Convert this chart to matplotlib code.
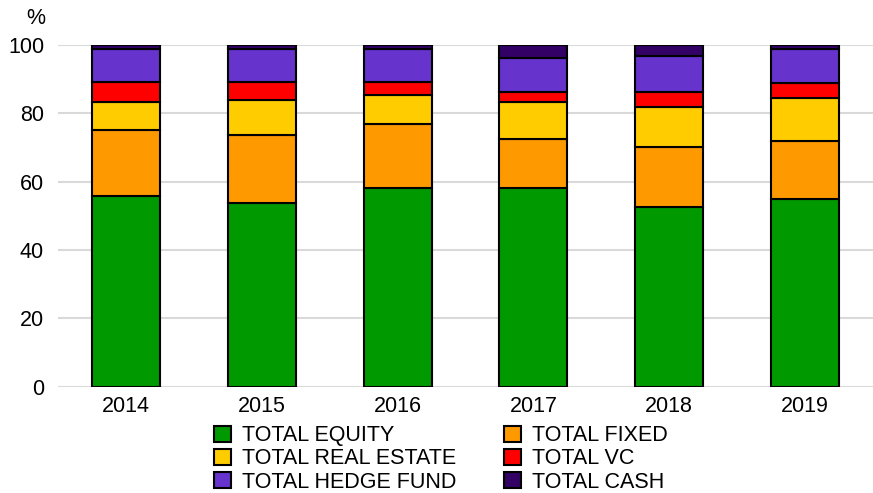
import matplotlib
matplotlib.use("Agg")
import matplotlib.pyplot as plt
import numpy as np
from matplotlib.patches import Patch

plt.rcParams['font.family'] = ['Liberation Sans', 'DejaVu Sans']

years = ["2014", "2015", "2016", "2017", "2018", "2019"]
equity = [55.7, 53.8, 58.2, 58.2, 52.6, 54.9]
fixed = [19.4, 20.0, 18.6, 14.4, 17.5, 16.9]
real_estate = [8.1, 10.0, 8.7, 10.6, 11.8, 12.7]
vc = [6.1, 5.5, 3.8, 3.1, 4.4, 4.3]
hedge_fund = [9.4, 9.4, 9.4, 9.8, 10.5, 9.9]
cash = [1.3, 1.3, 1.3, 3.9, 3.2, 1.3]

series = [
    ("TOTAL EQUITY", equity, "#009900"),
    ("TOTAL FIXED", fixed, "#FF9900"),
    ("TOTAL REAL ESTATE", real_estate, "#FFCC00"),
    ("TOTAL VC", vc, "#FF0000"),
    ("TOTAL HEDGE FUND", hedge_fund, "#6633CC"),
    ("TOTAL CASH", cash, "#330066"),
]

FS = 15.5
fig = plt.figure(figsize=(8.73, 4.93), dpi=100)
ax = fig.add_axes([58/873, 1 - 386.7/493, (873-58)/873, (386.7-45)/493])

x = np.arange(len(years))
bottom = np.zeros(len(years))
for name, vals, col in series:
    ax.bar(x, vals, width=0.5, bottom=bottom, color=col, edgecolor="black",
           linewidth=1.5, zorder=3, label=name)
    bottom += np.array(vals)

ax.set_xlim(-0.5, len(years) - 0.5)
ax.set_ylim(0, 100)
ax.set_yticks([0, 20, 40, 60, 80, 100])
ax.set_xticks(x)
ax.set_xticklabels(years)
ax.yaxis.grid(True, color="#d9d9d9", linewidth=1.5, zorder=0)
ax.set_axisbelow(True)
for s in ax.spines.values():
    s.set_visible(False)
ax.tick_params(axis="both", length=0, labelsize=FS, colors="black")
ax.tick_params(axis="y", pad=10)
ax.tick_params(axis="x", pad=7)

fig.text(36/873, 1 - 18/493, "%", fontsize=FS, ha="center", va="center")

handles = [Patch(facecolor=c, edgecolor="black", linewidth=1.5, label=n) for n, v, c in series]
order = [0, 2, 4, 1, 3, 5]
handles = [handles[i] for i in order]
leg = fig.legend(handles=handles, loc="center", bbox_to_anchor=(441/873, 1 - 459/493),
                 ncol=2, frameon=False, fontsize=FS, handlelength=0.8, handleheight=0.8,
                 handletextpad=0.5, columnspacing=2.2, labelspacing=0.1, borderpad=0)

fig.savefig("out.png", dpi=100)
